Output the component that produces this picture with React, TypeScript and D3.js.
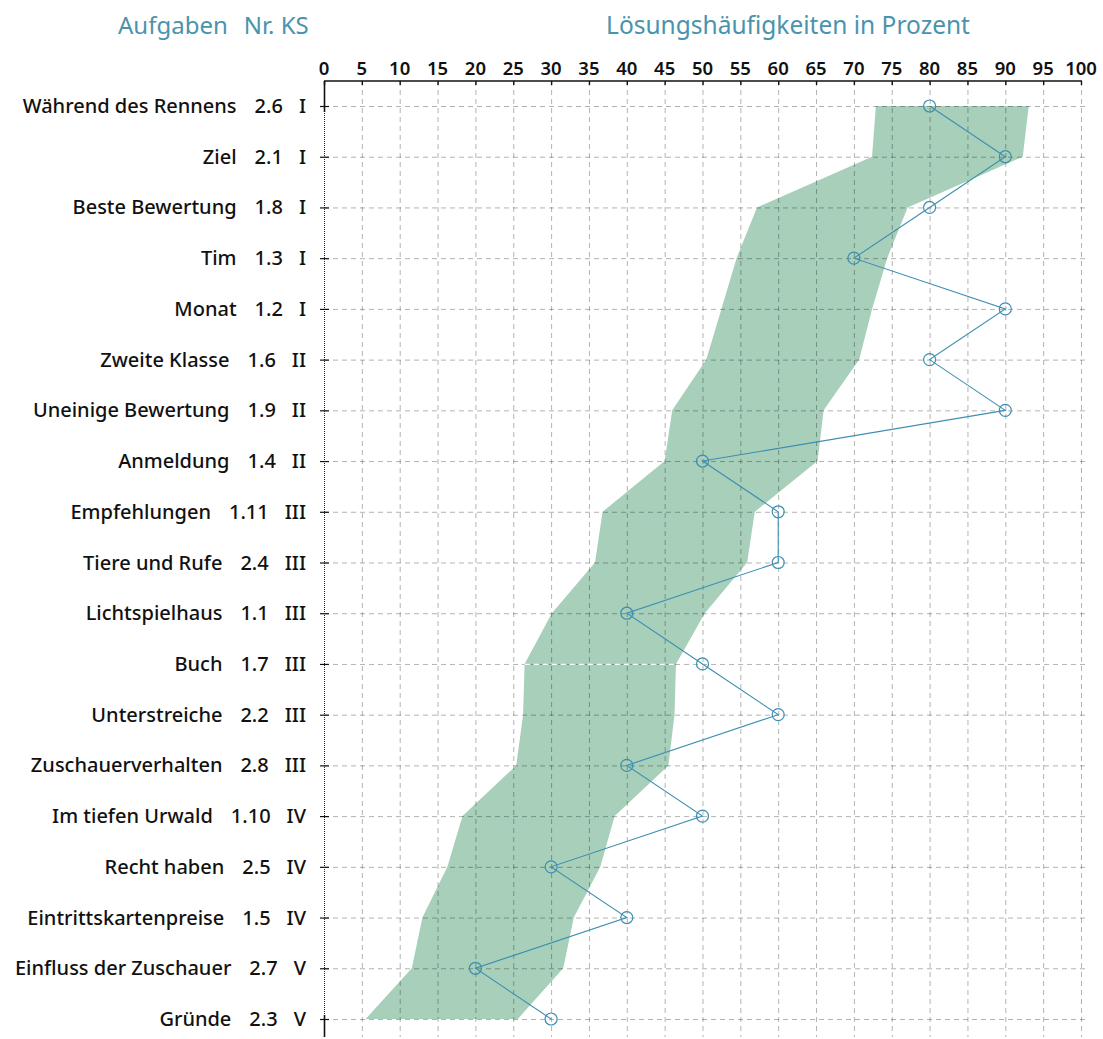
import React, { useEffect, useRef } from 'react';
import * as d3 from 'd3';

// Aufgaben (top to bottom)
const tasks = [
  'Während des Rennens', 'Ziel', 'Beste Bewertung', 'Tim', 'Monat', 'Zweite Klasse',
  'Uneinige Bewertung', 'Anmeldung', 'Empfehlungen', 'Tiere und Rufe', 'Lichtspielhaus',
  'Buch', 'Unterstreiche', 'Zuschauerverhalten', 'Im tiefen Urwald', 'Recht haben',
  'Eintrittskartenpreise', 'Einfluss der Zuschauer', 'Gründe',
];
const taskNr = ['2.6', '2.1', '1.8', '1.3', '1.2', '1.6', '1.9', '1.4', '1.11', '2.4', '1.1',
  '1.7', '2.2', '2.8', '1.10', '2.5', '1.5', '2.7', '2.3'];
const taskKS = ['I', 'I', 'I', 'I', 'I', 'II', 'II', 'II', 'III', 'III', 'III',
  'III', 'III', 'III', 'IV', 'IV', 'IV', 'V', 'V'];

// Lösungshäufigkeit (Prozent) of the class
const solved = [80, 90, 80, 70, 90, 80, 90, 50, 60, 60, 40, 50, 60, 40, 50, 30, 40, 20, 30];

// reference band (lower / upper edge in Prozent)
const bandLow = [72.9, 72.4, 57.2, 54.5, 52.5, 50.5, 46, 45, 36.8, 35.8, 30.1, 26.5, 26.3,
  25.4, 18.3, 16.3, 13, 11.6, 5.5];
const bandHigh = [93.1, 92.3, 77.1, 74.4, 72.4, 70.7, 66, 65.2, 56.9, 55.9, 50.3, 46.5, 46.3,
  45.5, 38.4, 36.5, 33, 31.6, 25.6];

const xTicks = d3.range(0, 101, 5);

const FONT = '"Noto Sans", "Open Sans", sans-serif';
const BLUE = '#3d8fb0';
const TITLE = '#4a93ad';
const BAND = '#a7cfb9';

export default function App() {
  const svgRef = useRef<SVGSVGElement>(null);

  useEffect(() => {
    document.body.style.margin = '0';
    if (!svgRef.current) return;
    const svg = d3.select(svgRef.current);
    svg.selectAll('*').remove();

    const x = d3.scaleLinear().domain([0, 100]).range([324, 1081]);
    const y = d3.scalePoint<string>().domain(tasks).range([106, 1019]);
    const axisY = 81;
    const bottom = 1037;

    const rows = tasks.map((t, i) => ({
      t, nr: taskNr[i], ks: taskKS[i], v: solved[i], lo: bandLow[i], hi: bandHigh[i],
    }));

    // band
    const area = d3.area<typeof rows[0]>()
      .y(d => y(d.t)!)
      .x0(d => x(d.lo))
      .x1(d => x(d.hi));
    svg.append('path').attr('d', area(rows)!).attr('fill', BAND);

    // grid
    const grid = svg.append('g')
      .attr('stroke', 'rgba(0,0,0,0.3)')
      .attr('stroke-width', 1)
      .attr('stroke-dasharray', '5,4');
    grid.selectAll('line.v').data(xTicks.slice(1)).enter().append('line')
      .attr('x1', d => x(d) + 0.5).attr('x2', d => x(d) + 0.5)
      .attr('y1', axisY).attr('y2', bottom);
    grid.selectAll('line.h').data(tasks).enter().append('line')
      .attr('x1', x(0)).attr('x2', x(100) + 4)
      .attr('y1', d => y(d)! + 0.5).attr('y2', d => y(d)! + 0.5);

    // white dashed grid segment inside the band on row "Buch"
    const buch = rows[tasks.indexOf('Buch')];
    svg.append('line')
      .attr('x1', x(buch.lo)).attr('x2', x(buch.hi))
      .attr('y1', y(buch.t)! + 0.5).attr('y2', y(buch.t)! + 0.5)
      .attr('stroke', '#fff').attr('stroke-width', 1.2).attr('stroke-dasharray', '5,4');

    // top axis
    const top = svg.append('g');
    top.append('line')
      .attr('x1', x(0)).attr('x2', x(100) + 1)
      .attr('y1', axisY).attr('y2', axisY)
      .attr('stroke', '#111').attr('stroke-width', 1.6);
    top.selectAll('line.t').data(xTicks).enter().append('line')
      .attr('x1', d => x(d) + 0.5).attr('x2', d => x(d) + 0.5)
      .attr('y1', axisY).attr('y2', axisY + 4)
      .attr('stroke', '#111').attr('stroke-width', 1.4);
    top.selectAll('text').data(xTicks).enter().append('text')
      .attr('x', d => x(d)).attr('y', 75)
      .attr('text-anchor', 'middle')
      .attr('font-family', FONT).attr('font-size', 18.5).attr('font-weight', 600)
      .attr('fill', '#111')
      .text(d => d);

    // left axis
    const left = svg.append('g');
    left.append('line')
      .attr('x1', x(0) + 0.5).attr('x2', x(0) + 0.5)
      .attr('y1', axisY).attr('y2', bottom)
      .attr('stroke', '#222').attr('stroke-width', 1).attr('stroke-dasharray', '1,1');
    left.append('line')
      .attr('x1', x(0) + 0.5).attr('x2', x(0) + 0.5)
      .attr('y1', axisY).attr('y2', y(tasks[0])! + 6)
      .attr('stroke', '#111').attr('stroke-width', 1.6);
    left.append('line')
      .attr('x1', x(0) + 0.5).attr('x2', x(0) + 0.5)
      .attr('y1', y(tasks[tasks.length - 1])! - 4).attr('y2', bottom)
      .attr('stroke', '#111').attr('stroke-width', 1.6);
    left.selectAll('line.t').data(tasks).enter().append('line')
      .attr('x1', x(0) - 4).attr('x2', x(0) + 5)
      .attr('y1', d => y(d)! + 0.5).attr('y2', d => y(d)! + 0.5)
      .attr('stroke', '#111').attr('stroke-width', 1.2);

    // row labels
    const lab = svg.append('g')
      .attr('font-family', FONT).attr('font-size', 20).attr('font-weight', 500)
      .attr('fill', '#111').attr('text-anchor', 'end');
    rows.forEach(r => {
      const t = lab.append('text').attr('x', 306).attr('y', y(r.t)! + 7);
      t.append('tspan').text(r.t);
      t.append('tspan').attr('dx', 18).text(r.nr);
      t.append('tspan').attr('dx', 16).text(r.ks);
    });

    // line + markers
    const line = d3.line<typeof rows[0]>().x(d => x(d.v)).y(d => y(d.t)!);
    svg.append('path').attr('d', line(rows)!)
      .attr('fill', 'none').attr('stroke', BLUE).attr('stroke-width', 1.1);
    svg.selectAll('circle').data(rows).enter().append('circle')
      .attr('cx', d => x(d.v)).attr('cy', d => y(d.t)!)
      .attr('r', 6)
      .attr('fill', 'none').attr('stroke', BLUE).attr('stroke-width', 1.2);

    // titles
    svg.append('text').attr('x', 118).attr('y', 34)
      .attr('font-family', FONT).attr('font-size', 24).attr('fill', TITLE)
      .text('Aufgaben')
      .append('tspan').attr('dx', 16).text('Nr. KS');
    svg.append('text').attr('x', 788).attr('y', 34)
      .attr('text-anchor', 'middle')
      .attr('font-family', FONT).attr('font-size', 24.5).attr('fill', TITLE)
      .text('Lösungshäufigkeiten in Prozent');
  }, []);

  return <svg ref={svgRef} width={1103} height={1039} style={{ display: 'block', background: '#fff' }} />;
}
